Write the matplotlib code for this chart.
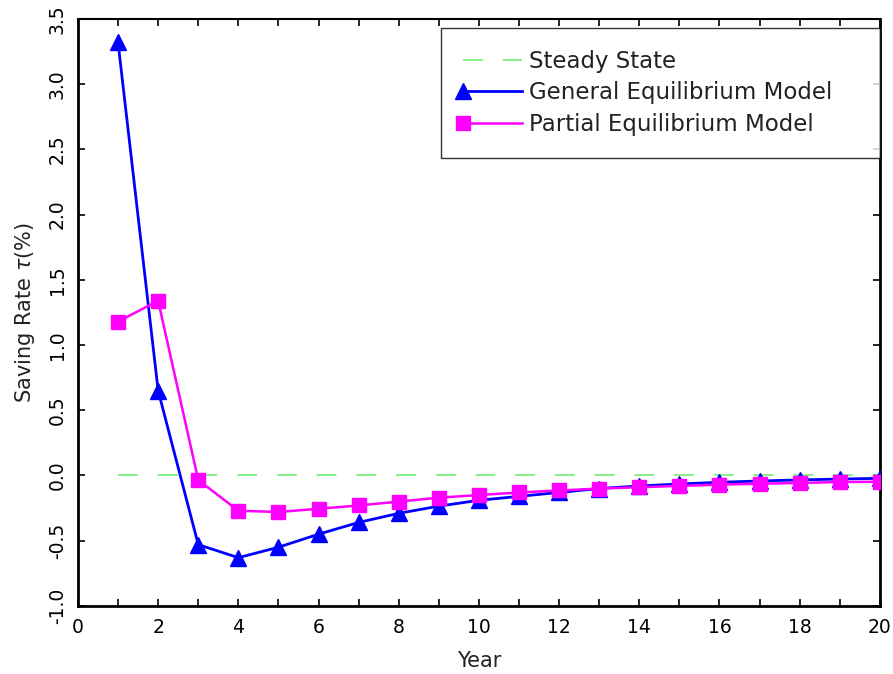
import numpy as np
import matplotlib
matplotlib.use('Agg')
import matplotlib.pyplot as plt
from matplotlib.legend_handler import HandlerLine2D
from matplotlib.ticker import MultipleLocator

# ── 数据──
years = list(range(1, 21))
ge_model = [3.32, 0.65, -0.53, -0.63, -0.55, -0.45, -0.36, -0.29, -0.235, -0.19,
            -0.16, -0.13, -0.10, -0.08, -0.065, -0.052, -0.042, -0.034, -0.027, -0.022]
pe_model = [1.18, 1.34, -0.035, -0.27, -0.28, -0.255, -0.23, -0.20, -0.17, -0.15,
            -0.13, -0.115, -0.10, -0.09, -0.08, -0.07, -0.063, -0.057, -0.05, -0.048]
steady_state = [0.0] * len(years)

BLUE = '#0000ff'
MAGENTA = '#ff00ff'
GREEN = '#66ee66'


class StartMarkerHandler(HandlerLine2D):
    """legend里把marker放在线段左端"""
    def create_artists(self, legend, orig_handle, xdescent, ydescent,
                       width, height, fontsize, trans):
        artists = super().create_artists(legend, orig_handle, xdescent, ydescent,
                                         width, height, fontsize, trans)
        for a in artists:
            a.set_markevery([0])
        return artists


plt.rcParams['font.family'] = ['DejaVu Sans']
fig = plt.figure(figsize=(8.93, 6.74), dpi=100)
ax = fig.add_axes([0.0873, 0.101, 0.898, 0.8708])

ax.plot(years, steady_state, color=GREEN, lw=1.1, dashes=(13, 13),
        label='Steady State', zorder=2)
ax.plot(years, ge_model, color=BLUE, lw=2.0, marker='^', markersize=11,
        markeredgecolor=BLUE, label='General Equilibrium Model', zorder=3)
ax.plot(years, pe_model, color=MAGENTA, lw=1.8, marker='s', markersize=10,
        markeredgecolor=MAGENTA, label='Partial Equilibrium Model', zorder=4)

ax.set_xlim(0, 20)
ax.set_ylim(-1.0, 3.5)
ax.xaxis.set_major_locator(MultipleLocator(2))
ax.xaxis.set_minor_locator(MultipleLocator(1))
ax.yaxis.set_major_locator(MultipleLocator(0.5))
ax.yaxis.set_major_formatter(matplotlib.ticker.FormatStrFormatter('%.1f'))

ax.tick_params(axis='both', which='both', direction='in', top=True, right=True,
               length=5, width=1.2, labelsize=13.5, colors='black')
ax.tick_params(axis='x', which='major', pad=9)
ax.tick_params(axis='y', which='major', pad=8)
for lab in ax.get_yticklabels():
    lab.set_rotation(90)
    lab.set_va('center')

for side in ['left', 'bottom', 'right']:
    ax.spines[side].set_linewidth(2.0)
ax.spines['top'].set_linewidth(1.5)

ax.set_xlabel('Year', fontsize=15, color='#222222', labelpad=10)
ax.set_ylabel(r'Saving Rate $\tau$(%)', fontsize=15, color='#222222', labelpad=8)

# 图例框：左边界约在 x=441px，右侧贴住坐标轴
leg = ax.legend(loc='upper left', bbox_to_anchor=(0.4526, 0.985, 0.5474, 0.0),
                mode='expand', borderaxespad=0,
                fontsize=16.5, frameon=True, fancybox=False, edgecolor='black',
                handlelength=2.6, handletextpad=0.3, labelspacing=0.38,
                borderpad=0.95, numpoints=1,
                handler_map={matplotlib.lines.Line2D: StartMarkerHandler()})
leg.get_frame().set_linewidth(1.0)
for t in leg.get_texts():
    t.set_color('#222222')

plt.savefig('out.png', dpi=100)
plt.close()
